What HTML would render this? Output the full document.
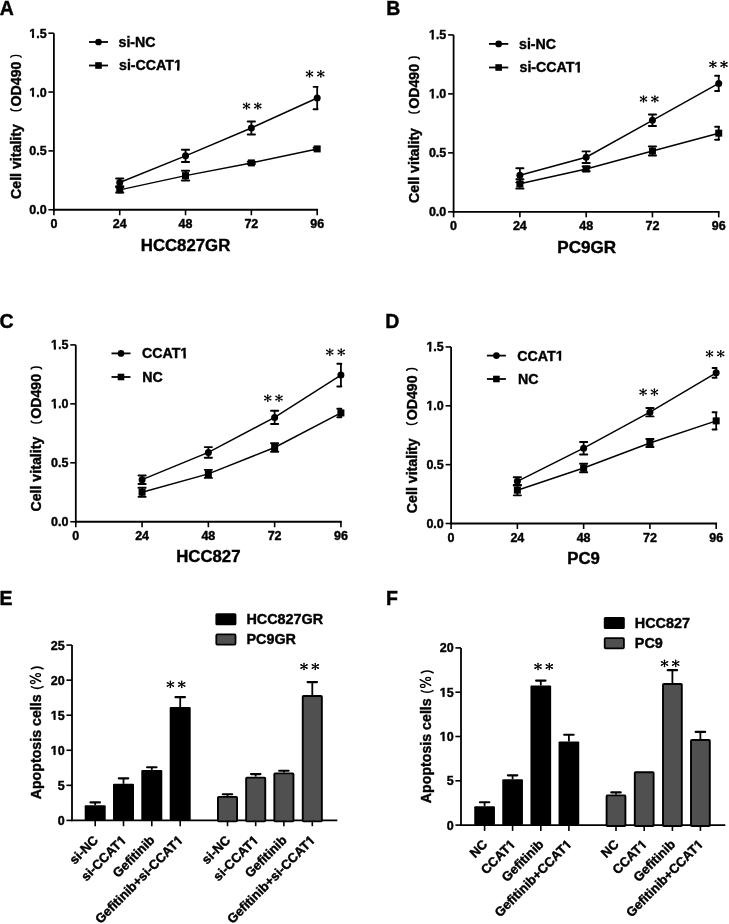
<!DOCTYPE html>
<html><head><meta charset="utf-8"><title>Figure</title>
<style>
html,body{margin:0;padding:0;background:#fff;}
body{width:729px;height:924px;overflow:hidden;}
svg{display:block;font-family:"Liberation Sans", sans-serif;filter:blur(0.4px);}
</style></head><body>
<svg width="729" height="924" viewBox="0 0 729 924" fill="#000" stroke="#000">
<g stroke="none"><rect stroke="none" width="729" height="924" fill="#fff"/></g>
<line x1="53.9" y1="33.2" x2="53.9" y2="210.65" stroke-width="1.8" stroke-linecap="butt"/>
<line x1="53" y1="209.75" x2="318.08" y2="209.75" stroke-width="1.8" stroke-linecap="butt"/>
<line x1="48.4" y1="209.75" x2="53.9" y2="209.75" stroke-width="1.6" stroke-linecap="butt"/>
<text stroke="#000" stroke-width="0.4" x="46.6" y="214.25" font-size="12.5" text-anchor="end" font-weight="bold">0.0</text>
<line x1="48.4" y1="150.9" x2="53.9" y2="150.9" stroke-width="1.6" stroke-linecap="butt"/>
<text stroke="#000" stroke-width="0.4" x="46.6" y="155.4" font-size="12.5" text-anchor="end" font-weight="bold">0.5</text>
<line x1="48.4" y1="92.05" x2="53.9" y2="92.05" stroke-width="1.6" stroke-linecap="butt"/>
<text stroke="#000" stroke-width="0.4" x="46.6" y="96.55" font-size="12.5" text-anchor="end" font-weight="bold">1.0</text>
<line x1="48.4" y1="33.2" x2="53.9" y2="33.2" stroke-width="1.6" stroke-linecap="butt"/>
<text stroke="#000" stroke-width="0.4" x="46.6" y="37.7" font-size="12.5" text-anchor="end" font-weight="bold">1.5</text>
<line x1="53.9" y1="209.75" x2="53.9" y2="215.25" stroke-width="1.6" stroke-linecap="butt"/>
<text stroke="#000" stroke-width="0.4" x="53.9" y="228.15" font-size="12.5" text-anchor="middle" font-weight="bold">0</text>
<line x1="119.72" y1="209.75" x2="119.72" y2="215.25" stroke-width="1.6" stroke-linecap="butt"/>
<text stroke="#000" stroke-width="0.4" x="119.72" y="228.15" font-size="12.5" text-anchor="middle" font-weight="bold">24</text>
<line x1="185.54" y1="209.75" x2="185.54" y2="215.25" stroke-width="1.6" stroke-linecap="butt"/>
<text stroke="#000" stroke-width="0.4" x="185.54" y="228.15" font-size="12.5" text-anchor="middle" font-weight="bold">48</text>
<line x1="251.36" y1="209.75" x2="251.36" y2="215.25" stroke-width="1.6" stroke-linecap="butt"/>
<text stroke="#000" stroke-width="0.4" x="251.36" y="228.15" font-size="12.5" text-anchor="middle" font-weight="bold">72</text>
<line x1="317.18" y1="209.75" x2="317.18" y2="215.25" stroke-width="1.6" stroke-linecap="butt"/>
<text stroke="#000" stroke-width="0.4" x="317.18" y="228.15" font-size="12.5" text-anchor="middle" font-weight="bold">96</text>
<text stroke="#000" stroke-width="0.4" x="185.54" y="250.65" font-size="16.8" text-anchor="middle" font-weight="bold">HCC827GR</text>
<text stroke="#000" stroke-width="0.4" x="-0.3" y="14.6" font-size="19.5" text-anchor="start" font-weight="bold">A</text>
<text stroke="#000" stroke-width="0.4" transform="translate(20.85 199) rotate(-90)" font-size="14.2" font-weight="bold">Cell vitality</text>
<text stroke="#000" stroke-width="0.4" transform="translate(20.85 106.5) rotate(-90)" font-size="14.2" font-weight="bold">OD490</text>
<path d="M10.65 108.15A5.3 2.5 0 0 0 21.25 108.15" fill="none" stroke-width="1.45"/>
<path d="M10.65 57.85A5.3 2.5 0 0 1 21.25 57.85" fill="none" stroke-width="1.45"/>
<polyline points="119.72,182.44 185.54,155.84 251.36,127.95 317.18,98.05" fill="none" stroke-width="1.5"/>
<line x1="119.72" y1="178.56" x2="119.72" y2="186.33" stroke-width="1.8" stroke-linecap="butt"/>
<line x1="116.12" y1="178.56" x2="123.32" y2="178.56" stroke-width="1.95" stroke-linecap="round"/>
<line x1="116.12" y1="186.33" x2="123.32" y2="186.33" stroke-width="1.95" stroke-linecap="round"/>
<circle stroke="none" cx="119.72" cy="182.44" r="3.5"/>
<line x1="185.54" y1="149.72" x2="185.54" y2="161.96" stroke-width="1.8" stroke-linecap="butt"/>
<line x1="181.94" y1="149.72" x2="189.14" y2="149.72" stroke-width="1.95" stroke-linecap="round"/>
<line x1="181.94" y1="161.96" x2="189.14" y2="161.96" stroke-width="1.95" stroke-linecap="round"/>
<circle stroke="none" cx="185.54" cy="155.84" r="3.5"/>
<line x1="251.36" y1="121.48" x2="251.36" y2="134.42" stroke-width="1.8" stroke-linecap="butt"/>
<line x1="247.76" y1="121.48" x2="254.96" y2="121.48" stroke-width="1.95" stroke-linecap="round"/>
<line x1="247.76" y1="134.42" x2="254.96" y2="134.42" stroke-width="1.95" stroke-linecap="round"/>
<circle stroke="none" cx="251.36" cy="127.95" r="3.5"/>
<line x1="317.18" y1="86.87" x2="317.18" y2="109.23" stroke-width="1.8" stroke-linecap="butt"/>
<line x1="313.58" y1="86.87" x2="317.58" y2="86.87" stroke-width="1.95" stroke-linecap="round"/>
<line x1="313.58" y1="109.23" x2="317.58" y2="109.23" stroke-width="1.95" stroke-linecap="round"/>
<circle stroke="none" cx="317.18" cy="98.05" r="3.5"/>
<polyline points="119.72,189.86 185.54,175.62 251.36,162.91 317.18,148.9" fill="none" stroke-width="1.5"/>
<line x1="119.72" y1="187.27" x2="119.72" y2="192.45" stroke-width="1.8" stroke-linecap="butt"/>
<line x1="116.12" y1="187.27" x2="123.32" y2="187.27" stroke-width="1.95" stroke-linecap="round"/>
<line x1="116.12" y1="192.45" x2="123.32" y2="192.45" stroke-width="1.95" stroke-linecap="round"/>
<rect stroke="none" x="116.22" y="186.36" width="7" height="7"/>
<line x1="185.54" y1="170.67" x2="185.54" y2="180.56" stroke-width="1.8" stroke-linecap="butt"/>
<line x1="181.94" y1="170.67" x2="189.14" y2="170.67" stroke-width="1.95" stroke-linecap="round"/>
<line x1="181.94" y1="180.56" x2="189.14" y2="180.56" stroke-width="1.95" stroke-linecap="round"/>
<rect stroke="none" x="182.04" y="172.12" width="7" height="7"/>
<line x1="251.36" y1="161.73" x2="251.36" y2="164.08" stroke-width="1.8" stroke-linecap="butt"/>
<line x1="247.76" y1="161.73" x2="254.96" y2="161.73" stroke-width="1.95" stroke-linecap="round"/>
<line x1="247.76" y1="164.08" x2="254.96" y2="164.08" stroke-width="1.95" stroke-linecap="round"/>
<rect stroke="none" x="247.86" y="159.41" width="7" height="7"/>
<line x1="317.18" y1="147.72" x2="317.18" y2="150.08" stroke-width="1.8" stroke-linecap="butt"/>
<line x1="313.58" y1="147.72" x2="317.58" y2="147.72" stroke-width="1.95" stroke-linecap="round"/>
<line x1="313.58" y1="150.08" x2="317.58" y2="150.08" stroke-width="1.95" stroke-linecap="round"/>
<rect stroke="none" x="313.68" y="145.4" width="7" height="7"/>
<line x1="89" y1="42" x2="108" y2="42" stroke-width="1.8" stroke-linecap="butt"/>
<circle stroke="none" cx="98.5" cy="42" r="3.35"/>
<text stroke="#000" stroke-width="0.4" x="118.5" y="46.9" font-size="14.2" text-anchor="start" font-weight="bold">si-NC</text>
<line x1="89" y1="65.5" x2="108" y2="65.5" stroke-width="1.8" stroke-linecap="butt"/>
<rect stroke="none" x="95.2" y="62.2" width="6.6" height="6.6"/>
<text stroke="#000" stroke-width="0.4" x="119" y="70.4" font-size="14.2" text-anchor="start" font-weight="bold">si-CCAT1</text>
<path d="M246.82 106L247.25 102.95L245.75 102.95L246.18 106ZM246.66 106.28L249.9 104.9L249.15 103.61L246.34 105.72ZM246.66 105.72L243.85 103.61L243.1 104.9L246.34 106.28ZM246.18 106L245.75 109.05L247.25 109.05L246.82 106ZM246.34 105.72L243.1 107.1L243.85 108.39L246.66 106.28ZM246.34 106.28L249.15 108.39L249.9 107.1L246.66 105.72Z" stroke="none"/><circle stroke="none" cx="246.5" cy="102.95" r="0.75"/><circle stroke="none" cx="249.52" cy="104.25" r="0.75"/><circle stroke="none" cx="243.48" cy="104.25" r="0.75"/><circle stroke="none" cx="246.5" cy="109.05" r="0.75"/><circle stroke="none" cx="243.48" cy="107.75" r="0.75"/><circle stroke="none" cx="249.52" cy="107.75" r="0.75"/><circle stroke="none" cx="246.5" cy="106" r="0.95"/>
<path d="M258.12 106L258.55 102.95L257.05 102.95L257.48 106ZM257.96 106.28L261.2 104.9L260.45 103.61L257.64 105.72ZM257.96 105.72L255.15 103.61L254.4 104.9L257.64 106.28ZM257.48 106L257.05 109.05L258.55 109.05L258.12 106ZM257.64 105.72L254.4 107.1L255.15 108.39L257.96 106.28ZM257.64 106.28L260.45 108.39L261.2 107.1L257.96 105.72Z" stroke="none"/><circle stroke="none" cx="257.8" cy="102.95" r="0.75"/><circle stroke="none" cx="260.82" cy="104.25" r="0.75"/><circle stroke="none" cx="254.78" cy="104.25" r="0.75"/><circle stroke="none" cx="257.8" cy="109.05" r="0.75"/><circle stroke="none" cx="254.78" cy="107.75" r="0.75"/><circle stroke="none" cx="260.82" cy="107.75" r="0.75"/><circle stroke="none" cx="257.8" cy="106" r="0.95"/>
<path d="M309.82 73.9L310.25 70.85L308.75 70.85L309.18 73.9ZM309.66 74.18L312.9 72.8L312.15 71.51L309.34 73.62ZM309.66 73.62L306.85 71.51L306.1 72.8L309.34 74.18ZM309.18 73.9L308.75 76.95L310.25 76.95L309.82 73.9ZM309.34 73.62L306.1 75L306.85 76.29L309.66 74.18ZM309.34 74.18L312.15 76.29L312.9 75L309.66 73.62Z" stroke="none"/><circle stroke="none" cx="309.5" cy="70.85" r="0.75"/><circle stroke="none" cx="312.52" cy="72.16" r="0.75"/><circle stroke="none" cx="306.48" cy="72.16" r="0.75"/><circle stroke="none" cx="309.5" cy="76.95" r="0.75"/><circle stroke="none" cx="306.48" cy="75.65" r="0.75"/><circle stroke="none" cx="312.52" cy="75.65" r="0.75"/><circle stroke="none" cx="309.5" cy="73.9" r="0.95"/>
<path d="M321.12 73.9L321.55 70.85L320.05 70.85L320.48 73.9ZM320.96 74.18L324.2 72.8L323.45 71.51L320.64 73.62ZM320.96 73.62L318.15 71.51L317.4 72.8L320.64 74.18ZM320.48 73.9L320.05 76.95L321.55 76.95L321.12 73.9ZM320.64 73.62L317.4 75L318.15 76.29L320.96 74.18ZM320.64 74.18L323.45 76.29L324.2 75L320.96 73.62Z" stroke="none"/><circle stroke="none" cx="320.8" cy="70.85" r="0.75"/><circle stroke="none" cx="323.82" cy="72.16" r="0.75"/><circle stroke="none" cx="317.78" cy="72.16" r="0.75"/><circle stroke="none" cx="320.8" cy="76.95" r="0.75"/><circle stroke="none" cx="317.78" cy="75.65" r="0.75"/><circle stroke="none" cx="323.82" cy="75.65" r="0.75"/><circle stroke="none" cx="320.8" cy="73.9" r="0.95"/>
<line x1="453.6" y1="34.9" x2="453.6" y2="212.75" stroke-width="1.8" stroke-linecap="butt"/>
<line x1="452.7" y1="211.85" x2="719.62" y2="211.85" stroke-width="1.8" stroke-linecap="butt"/>
<line x1="448.1" y1="211.85" x2="453.6" y2="211.85" stroke-width="1.6" stroke-linecap="butt"/>
<text stroke="#000" stroke-width="0.4" x="446.3" y="216.35" font-size="12.5" text-anchor="end" font-weight="bold">0.0</text>
<line x1="448.1" y1="152.87" x2="453.6" y2="152.87" stroke-width="1.6" stroke-linecap="butt"/>
<text stroke="#000" stroke-width="0.4" x="446.3" y="157.37" font-size="12.5" text-anchor="end" font-weight="bold">0.5</text>
<line x1="448.1" y1="93.88" x2="453.6" y2="93.88" stroke-width="1.6" stroke-linecap="butt"/>
<text stroke="#000" stroke-width="0.4" x="446.3" y="98.38" font-size="12.5" text-anchor="end" font-weight="bold">1.0</text>
<line x1="448.1" y1="34.9" x2="453.6" y2="34.9" stroke-width="1.6" stroke-linecap="butt"/>
<text stroke="#000" stroke-width="0.4" x="446.3" y="39.4" font-size="12.5" text-anchor="end" font-weight="bold">1.5</text>
<line x1="453.6" y1="211.85" x2="453.6" y2="217.35" stroke-width="1.6" stroke-linecap="butt"/>
<text stroke="#000" stroke-width="0.4" x="453.6" y="230.25" font-size="12.5" text-anchor="middle" font-weight="bold">0</text>
<line x1="519.88" y1="211.85" x2="519.88" y2="217.35" stroke-width="1.6" stroke-linecap="butt"/>
<text stroke="#000" stroke-width="0.4" x="519.88" y="230.25" font-size="12.5" text-anchor="middle" font-weight="bold">24</text>
<line x1="586.16" y1="211.85" x2="586.16" y2="217.35" stroke-width="1.6" stroke-linecap="butt"/>
<text stroke="#000" stroke-width="0.4" x="586.16" y="230.25" font-size="12.5" text-anchor="middle" font-weight="bold">48</text>
<line x1="652.44" y1="211.85" x2="652.44" y2="217.35" stroke-width="1.6" stroke-linecap="butt"/>
<text stroke="#000" stroke-width="0.4" x="652.44" y="230.25" font-size="12.5" text-anchor="middle" font-weight="bold">72</text>
<line x1="718.72" y1="211.85" x2="718.72" y2="217.35" stroke-width="1.6" stroke-linecap="butt"/>
<text stroke="#000" stroke-width="0.4" x="718.72" y="230.25" font-size="12.5" text-anchor="middle" font-weight="bold">96</text>
<text stroke="#000" stroke-width="0.4" x="586.76" y="252.75" font-size="17.1" text-anchor="middle" font-weight="bold">PC9GR</text>
<text stroke="#000" stroke-width="0.4" x="386.3" y="14.8" font-size="19.5" text-anchor="start" font-weight="bold">B</text>
<text stroke="#000" stroke-width="0.4" transform="translate(419.05 202.9) rotate(-90)" font-size="14.2" font-weight="bold">Cell vitality</text>
<text stroke="#000" stroke-width="0.4" transform="translate(419.05 108.8) rotate(-90)" font-size="14.2" font-weight="bold">OD490</text>
<path d="M408.85 110.45A5.3 2.5 0 0 0 419.45 110.45" fill="none" stroke-width="1.45"/>
<path d="M408.85 59.45A5.3 2.5 0 0 1 419.45 59.45" fill="none" stroke-width="1.45"/>
<polyline points="519.88,175.28 586.16,157.23 652.44,120.31 718.72,83.38" fill="none" stroke-width="1.5"/>
<line x1="519.88" y1="168.2" x2="519.88" y2="182.36" stroke-width="1.8" stroke-linecap="butt"/>
<line x1="516.28" y1="168.2" x2="523.48" y2="168.2" stroke-width="1.95" stroke-linecap="round"/>
<line x1="516.28" y1="182.36" x2="523.48" y2="182.36" stroke-width="1.95" stroke-linecap="round"/>
<circle stroke="none" cx="519.88" cy="175.28" r="3.5"/>
<line x1="586.16" y1="151.38" x2="586.16" y2="163.08" stroke-width="1.8" stroke-linecap="butt"/>
<line x1="582.56" y1="151.38" x2="589.76" y2="151.38" stroke-width="1.95" stroke-linecap="round"/>
<line x1="582.56" y1="163.08" x2="589.76" y2="163.08" stroke-width="1.95" stroke-linecap="round"/>
<circle stroke="none" cx="586.16" cy="157.23" r="3.5"/>
<line x1="652.44" y1="114.52" x2="652.44" y2="126.09" stroke-width="1.8" stroke-linecap="butt"/>
<line x1="648.84" y1="114.52" x2="656.04" y2="114.52" stroke-width="1.95" stroke-linecap="round"/>
<line x1="648.84" y1="126.09" x2="656.04" y2="126.09" stroke-width="1.95" stroke-linecap="round"/>
<circle stroke="none" cx="652.44" cy="120.31" r="3.5"/>
<line x1="718.72" y1="75.83" x2="718.72" y2="90.93" stroke-width="1.8" stroke-linecap="butt"/>
<line x1="715.12" y1="75.83" x2="719.12" y2="75.83" stroke-width="1.95" stroke-linecap="round"/>
<line x1="715.12" y1="90.93" x2="719.12" y2="90.93" stroke-width="1.95" stroke-linecap="round"/>
<circle stroke="none" cx="718.72" cy="83.38" r="3.5"/>
<polyline points="519.88,183.83 586.16,168.91 652.44,150.98 718.72,133.16" fill="none" stroke-width="1.5"/>
<line x1="519.88" y1="179.11" x2="519.88" y2="188.55" stroke-width="1.8" stroke-linecap="butt"/>
<line x1="516.28" y1="179.11" x2="523.48" y2="179.11" stroke-width="1.95" stroke-linecap="round"/>
<line x1="516.28" y1="188.55" x2="523.48" y2="188.55" stroke-width="1.95" stroke-linecap="round"/>
<rect stroke="none" x="516.38" y="180.33" width="7" height="7"/>
<line x1="586.16" y1="166.55" x2="586.16" y2="171.27" stroke-width="1.8" stroke-linecap="butt"/>
<line x1="582.56" y1="166.55" x2="589.76" y2="166.55" stroke-width="1.95" stroke-linecap="round"/>
<line x1="582.56" y1="171.27" x2="589.76" y2="171.27" stroke-width="1.95" stroke-linecap="round"/>
<rect stroke="none" x="582.66" y="165.41" width="7" height="7"/>
<line x1="652.44" y1="146.38" x2="652.44" y2="155.58" stroke-width="1.8" stroke-linecap="butt"/>
<line x1="648.84" y1="146.38" x2="656.04" y2="146.38" stroke-width="1.95" stroke-linecap="round"/>
<line x1="648.84" y1="155.58" x2="656.04" y2="155.58" stroke-width="1.95" stroke-linecap="round"/>
<rect stroke="none" x="648.94" y="147.48" width="7" height="7"/>
<line x1="718.72" y1="126.68" x2="718.72" y2="139.65" stroke-width="1.8" stroke-linecap="butt"/>
<line x1="715.12" y1="126.68" x2="719.12" y2="126.68" stroke-width="1.95" stroke-linecap="round"/>
<line x1="715.12" y1="139.65" x2="719.12" y2="139.65" stroke-width="1.95" stroke-linecap="round"/>
<rect stroke="none" x="715.22" y="129.66" width="7" height="7"/>
<line x1="489" y1="43.9" x2="508.3" y2="43.9" stroke-width="1.8" stroke-linecap="butt"/>
<circle stroke="none" cx="498.65" cy="43.9" r="3.35"/>
<text stroke="#000" stroke-width="0.4" x="519" y="48.8" font-size="14.2" text-anchor="start" font-weight="bold">si-NC</text>
<line x1="489" y1="67.5" x2="508.3" y2="67.5" stroke-width="1.8" stroke-linecap="butt"/>
<rect stroke="none" x="495.35" y="64.2" width="6.6" height="6.6"/>
<text stroke="#000" stroke-width="0.4" x="519.5" y="72.4" font-size="14.2" text-anchor="start" font-weight="bold">si-CCAT1</text>
<path d="M643.82 99L644.25 95.95L642.75 95.95L643.18 99ZM643.66 99.28L646.9 97.9L646.15 96.61L643.34 98.72ZM643.66 98.72L640.85 96.61L640.1 97.9L643.34 99.28ZM643.18 99L642.75 102.05L644.25 102.05L643.82 99ZM643.34 98.72L640.1 100.1L640.85 101.39L643.66 99.28ZM643.34 99.28L646.15 101.39L646.9 100.1L643.66 98.72Z" stroke="none"/><circle stroke="none" cx="643.5" cy="95.95" r="0.75"/><circle stroke="none" cx="646.52" cy="97.25" r="0.75"/><circle stroke="none" cx="640.48" cy="97.25" r="0.75"/><circle stroke="none" cx="643.5" cy="102.05" r="0.75"/><circle stroke="none" cx="640.48" cy="100.75" r="0.75"/><circle stroke="none" cx="646.52" cy="100.75" r="0.75"/><circle stroke="none" cx="643.5" cy="99" r="0.95"/>
<path d="M655.22 99L655.65 95.95L654.15 95.95L654.58 99ZM655.06 99.28L658.3 97.9L657.55 96.61L654.74 98.72ZM655.06 98.72L652.25 96.61L651.5 97.9L654.74 99.28ZM654.58 99L654.15 102.05L655.65 102.05L655.22 99ZM654.74 98.72L651.5 100.1L652.25 101.39L655.06 99.28ZM654.74 99.28L657.55 101.39L658.3 100.1L655.06 98.72Z" stroke="none"/><circle stroke="none" cx="654.9" cy="95.95" r="0.75"/><circle stroke="none" cx="657.92" cy="97.25" r="0.75"/><circle stroke="none" cx="651.88" cy="97.25" r="0.75"/><circle stroke="none" cx="654.9" cy="102.05" r="0.75"/><circle stroke="none" cx="651.88" cy="100.75" r="0.75"/><circle stroke="none" cx="657.92" cy="100.75" r="0.75"/><circle stroke="none" cx="654.9" cy="99" r="0.95"/>
<path d="M713.22 64.4L713.65 61.35L712.15 61.35L712.58 64.4ZM713.06 64.68L716.3 63.3L715.55 62.01L712.74 64.12ZM713.06 64.12L710.25 62.01L709.5 63.3L712.74 64.68ZM712.58 64.4L712.15 67.45L713.65 67.45L713.22 64.4ZM712.74 64.12L709.5 65.5L710.25 66.79L713.06 64.68ZM712.74 64.68L715.55 66.79L716.3 65.5L713.06 64.12Z" stroke="none"/><circle stroke="none" cx="712.9" cy="61.35" r="0.75"/><circle stroke="none" cx="715.92" cy="62.66" r="0.75"/><circle stroke="none" cx="709.88" cy="62.66" r="0.75"/><circle stroke="none" cx="712.9" cy="67.45" r="0.75"/><circle stroke="none" cx="709.88" cy="66.15" r="0.75"/><circle stroke="none" cx="715.92" cy="66.15" r="0.75"/><circle stroke="none" cx="712.9" cy="64.4" r="0.95"/>
<path d="M724.32 64.4L724.75 61.35L723.25 61.35L723.68 64.4ZM724.16 64.68L727.4 63.3L726.65 62.01L723.84 64.12ZM724.16 64.12L721.35 62.01L720.6 63.3L723.84 64.68ZM723.68 64.4L723.25 67.45L724.75 67.45L724.32 64.4ZM723.84 64.12L720.6 65.5L721.35 66.79L724.16 64.68ZM723.84 64.68L726.65 66.79L727.4 65.5L724.16 64.12Z" stroke="none"/><circle stroke="none" cx="724" cy="61.35" r="0.75"/><circle stroke="none" cx="727.02" cy="62.66" r="0.75"/><circle stroke="none" cx="720.98" cy="62.66" r="0.75"/><circle stroke="none" cx="724" cy="67.45" r="0.75"/><circle stroke="none" cx="720.98" cy="66.15" r="0.75"/><circle stroke="none" cx="727.02" cy="66.15" r="0.75"/><circle stroke="none" cx="724" cy="64.4" r="0.95"/>
<line x1="75.8" y1="344.9" x2="75.8" y2="522.65" stroke-width="1.8" stroke-linecap="butt"/>
<line x1="74.9" y1="521.75" x2="341.82" y2="521.75" stroke-width="1.8" stroke-linecap="butt"/>
<line x1="70.3" y1="521.75" x2="75.8" y2="521.75" stroke-width="1.6" stroke-linecap="butt"/>
<text stroke="#000" stroke-width="0.4" x="68.5" y="526.25" font-size="12.5" text-anchor="end" font-weight="bold">0.0</text>
<line x1="70.3" y1="462.8" x2="75.8" y2="462.8" stroke-width="1.6" stroke-linecap="butt"/>
<text stroke="#000" stroke-width="0.4" x="68.5" y="467.3" font-size="12.5" text-anchor="end" font-weight="bold">0.5</text>
<line x1="70.3" y1="403.85" x2="75.8" y2="403.85" stroke-width="1.6" stroke-linecap="butt"/>
<text stroke="#000" stroke-width="0.4" x="68.5" y="408.35" font-size="12.5" text-anchor="end" font-weight="bold">1.0</text>
<line x1="70.3" y1="344.9" x2="75.8" y2="344.9" stroke-width="1.6" stroke-linecap="butt"/>
<text stroke="#000" stroke-width="0.4" x="68.5" y="349.4" font-size="12.5" text-anchor="end" font-weight="bold">1.5</text>
<line x1="75.8" y1="521.75" x2="75.8" y2="527.25" stroke-width="1.6" stroke-linecap="butt"/>
<text stroke="#000" stroke-width="0.4" x="75.8" y="540.15" font-size="12.5" text-anchor="middle" font-weight="bold">0</text>
<line x1="142.08" y1="521.75" x2="142.08" y2="527.25" stroke-width="1.6" stroke-linecap="butt"/>
<text stroke="#000" stroke-width="0.4" x="142.08" y="540.15" font-size="12.5" text-anchor="middle" font-weight="bold">24</text>
<line x1="208.36" y1="521.75" x2="208.36" y2="527.25" stroke-width="1.6" stroke-linecap="butt"/>
<text stroke="#000" stroke-width="0.4" x="208.36" y="540.15" font-size="12.5" text-anchor="middle" font-weight="bold">48</text>
<line x1="274.64" y1="521.75" x2="274.64" y2="527.25" stroke-width="1.6" stroke-linecap="butt"/>
<text stroke="#000" stroke-width="0.4" x="274.64" y="540.15" font-size="12.5" text-anchor="middle" font-weight="bold">72</text>
<line x1="340.92" y1="521.75" x2="340.92" y2="527.25" stroke-width="1.6" stroke-linecap="butt"/>
<text stroke="#000" stroke-width="0.4" x="340.92" y="540.15" font-size="12.5" text-anchor="middle" font-weight="bold">96</text>
<text stroke="#000" stroke-width="0.4" x="208.36" y="561.65" font-size="16.8" text-anchor="middle" font-weight="bold">HCC827</text>
<text stroke="#000" stroke-width="0.4" x="-0.6" y="328.3" font-size="19.5" text-anchor="start" font-weight="bold">C</text>
<text stroke="#000" stroke-width="0.4" transform="translate(41.3 511.6) rotate(-90)" font-size="14.2" font-weight="bold">Cell vitality</text>
<text stroke="#000" stroke-width="0.4" transform="translate(41.3 418.8) rotate(-90)" font-size="14.2" font-weight="bold">OD490</text>
<path d="M31.1 420.45A5.3 2.5 0 0 0 41.7 420.45" fill="none" stroke-width="1.45"/>
<path d="M31.1 369.45A5.3 2.5 0 0 1 41.7 369.45" fill="none" stroke-width="1.45"/>
<polyline points="142.08,479.66 208.36,452.42 274.64,417.41 340.92,375.08" fill="none" stroke-width="1.5"/>
<line x1="142.08" y1="475.42" x2="142.08" y2="483.9" stroke-width="1.8" stroke-linecap="butt"/>
<line x1="138.48" y1="475.42" x2="145.68" y2="475.42" stroke-width="1.95" stroke-linecap="round"/>
<line x1="138.48" y1="483.9" x2="145.68" y2="483.9" stroke-width="1.95" stroke-linecap="round"/>
<circle stroke="none" cx="142.08" cy="479.66" r="3.5"/>
<line x1="208.36" y1="447.12" x2="208.36" y2="457.73" stroke-width="1.8" stroke-linecap="butt"/>
<line x1="204.76" y1="447.12" x2="211.96" y2="447.12" stroke-width="1.95" stroke-linecap="round"/>
<line x1="204.76" y1="457.73" x2="211.96" y2="457.73" stroke-width="1.95" stroke-linecap="round"/>
<circle stroke="none" cx="208.36" cy="452.42" r="3.5"/>
<line x1="274.64" y1="410.81" x2="274.64" y2="424.01" stroke-width="1.8" stroke-linecap="butt"/>
<line x1="271.04" y1="410.81" x2="278.24" y2="410.81" stroke-width="1.95" stroke-linecap="round"/>
<line x1="271.04" y1="424.01" x2="278.24" y2="424.01" stroke-width="1.95" stroke-linecap="round"/>
<circle stroke="none" cx="274.64" cy="417.41" r="3.5"/>
<line x1="340.92" y1="363.76" x2="340.92" y2="386.4" stroke-width="1.8" stroke-linecap="butt"/>
<line x1="337.32" y1="363.76" x2="341.32" y2="363.76" stroke-width="1.95" stroke-linecap="round"/>
<line x1="337.32" y1="386.4" x2="341.32" y2="386.4" stroke-width="1.95" stroke-linecap="round"/>
<circle stroke="none" cx="340.92" cy="375.08" r="3.5"/>
<polyline points="142.08,492.27 208.36,473.88 274.64,447.47 340.92,412.93" fill="none" stroke-width="1.5"/>
<line x1="142.08" y1="487.68" x2="142.08" y2="496.87" stroke-width="1.8" stroke-linecap="butt"/>
<line x1="138.48" y1="487.68" x2="145.68" y2="487.68" stroke-width="1.95" stroke-linecap="round"/>
<line x1="138.48" y1="496.87" x2="145.68" y2="496.87" stroke-width="1.95" stroke-linecap="round"/>
<rect stroke="none" x="138.58" y="488.77" width="7" height="7"/>
<line x1="208.36" y1="469.87" x2="208.36" y2="477.89" stroke-width="1.8" stroke-linecap="butt"/>
<line x1="204.76" y1="469.87" x2="211.96" y2="469.87" stroke-width="1.95" stroke-linecap="round"/>
<line x1="204.76" y1="477.89" x2="211.96" y2="477.89" stroke-width="1.95" stroke-linecap="round"/>
<rect stroke="none" x="204.86" y="470.38" width="7" height="7"/>
<line x1="274.64" y1="443.23" x2="274.64" y2="451.72" stroke-width="1.8" stroke-linecap="butt"/>
<line x1="271.04" y1="443.23" x2="278.24" y2="443.23" stroke-width="1.95" stroke-linecap="round"/>
<line x1="271.04" y1="451.72" x2="278.24" y2="451.72" stroke-width="1.95" stroke-linecap="round"/>
<rect stroke="none" x="271.14" y="443.97" width="7" height="7"/>
<line x1="340.92" y1="408.68" x2="340.92" y2="417.17" stroke-width="1.8" stroke-linecap="butt"/>
<line x1="337.32" y1="408.68" x2="341.32" y2="408.68" stroke-width="1.95" stroke-linecap="round"/>
<line x1="337.32" y1="417.17" x2="341.32" y2="417.17" stroke-width="1.95" stroke-linecap="round"/>
<rect stroke="none" x="337.42" y="409.43" width="7" height="7"/>
<line x1="111.5" y1="353.4" x2="130.5" y2="353.4" stroke-width="1.8" stroke-linecap="butt"/>
<circle stroke="none" cx="121" cy="353.4" r="3.35"/>
<text stroke="#000" stroke-width="0.4" x="142" y="358.3" font-size="14.2" text-anchor="start" font-weight="bold">CCAT1</text>
<line x1="111.5" y1="377" x2="130.5" y2="377" stroke-width="1.8" stroke-linecap="butt"/>
<rect stroke="none" x="117.7" y="373.7" width="6.6" height="6.6"/>
<text stroke="#000" stroke-width="0.4" x="142.3" y="381.9" font-size="14.2" text-anchor="start" font-weight="bold">NC</text>
<path d="M268.07 398.1L268.5 395.05L267 395.05L267.43 398.1ZM267.91 398.38L271.15 397L270.4 395.71L267.59 397.82ZM267.91 397.82L265.1 395.71L264.35 397L267.59 398.38ZM267.43 398.1L267 401.15L268.5 401.15L268.07 398.1ZM267.59 397.82L264.35 399.2L265.1 400.49L267.91 398.38ZM267.59 398.38L270.4 400.49L271.15 399.2L267.91 397.82Z" stroke="none"/><circle stroke="none" cx="267.75" cy="395.05" r="0.75"/><circle stroke="none" cx="270.77" cy="396.36" r="0.75"/><circle stroke="none" cx="264.73" cy="396.36" r="0.75"/><circle stroke="none" cx="267.75" cy="401.15" r="0.75"/><circle stroke="none" cx="264.73" cy="399.85" r="0.75"/><circle stroke="none" cx="270.77" cy="399.85" r="0.75"/><circle stroke="none" cx="267.75" cy="398.1" r="0.95"/>
<path d="M279.32 398.1L279.75 395.05L278.25 395.05L278.68 398.1ZM279.16 398.38L282.4 397L281.65 395.71L278.84 397.82ZM279.16 397.82L276.35 395.71L275.6 397L278.84 398.38ZM278.68 398.1L278.25 401.15L279.75 401.15L279.32 398.1ZM278.84 397.82L275.6 399.2L276.35 400.49L279.16 398.38ZM278.84 398.38L281.65 400.49L282.4 399.2L279.16 397.82Z" stroke="none"/><circle stroke="none" cx="279" cy="395.05" r="0.75"/><circle stroke="none" cx="282.02" cy="396.36" r="0.75"/><circle stroke="none" cx="275.98" cy="396.36" r="0.75"/><circle stroke="none" cx="279" cy="401.15" r="0.75"/><circle stroke="none" cx="275.98" cy="399.85" r="0.75"/><circle stroke="none" cx="282.02" cy="399.85" r="0.75"/><circle stroke="none" cx="279" cy="398.1" r="0.95"/>
<path d="M330.12 352.1L330.55 349.05L329.05 349.05L329.48 352.1ZM329.96 352.38L333.2 351L332.45 349.71L329.64 351.82ZM329.96 351.82L327.15 349.71L326.4 351L329.64 352.38ZM329.48 352.1L329.05 355.15L330.55 355.15L330.12 352.1ZM329.64 351.82L326.4 353.2L327.15 354.49L329.96 352.38ZM329.64 352.38L332.45 354.49L333.2 353.2L329.96 351.82Z" stroke="none"/><circle stroke="none" cx="329.8" cy="349.05" r="0.75"/><circle stroke="none" cx="332.82" cy="350.36" r="0.75"/><circle stroke="none" cx="326.78" cy="350.36" r="0.75"/><circle stroke="none" cx="329.8" cy="355.15" r="0.75"/><circle stroke="none" cx="326.78" cy="353.85" r="0.75"/><circle stroke="none" cx="332.82" cy="353.85" r="0.75"/><circle stroke="none" cx="329.8" cy="352.1" r="0.95"/>
<path d="M341.52 352.1L341.95 349.05L340.45 349.05L340.88 352.1ZM341.36 352.38L344.6 351L343.85 349.71L341.04 351.82ZM341.36 351.82L338.55 349.71L337.8 351L341.04 352.38ZM340.88 352.1L340.45 355.15L341.95 355.15L341.52 352.1ZM341.04 351.82L337.8 353.2L338.55 354.49L341.36 352.38ZM341.04 352.38L343.85 354.49L344.6 353.2L341.36 351.82Z" stroke="none"/><circle stroke="none" cx="341.2" cy="349.05" r="0.75"/><circle stroke="none" cx="344.22" cy="350.36" r="0.75"/><circle stroke="none" cx="338.18" cy="350.36" r="0.75"/><circle stroke="none" cx="341.2" cy="355.15" r="0.75"/><circle stroke="none" cx="338.18" cy="353.85" r="0.75"/><circle stroke="none" cx="344.22" cy="353.85" r="0.75"/><circle stroke="none" cx="341.2" cy="352.1" r="0.95"/>
<line x1="451.1" y1="346.95" x2="451.1" y2="524.4" stroke-width="1.8" stroke-linecap="butt"/>
<line x1="450.2" y1="523.5" x2="717.08" y2="523.5" stroke-width="1.8" stroke-linecap="butt"/>
<line x1="445.6" y1="523.5" x2="451.1" y2="523.5" stroke-width="1.6" stroke-linecap="butt"/>
<text stroke="#000" stroke-width="0.4" x="443.8" y="528" font-size="12.5" text-anchor="end" font-weight="bold">0.0</text>
<line x1="445.6" y1="464.65" x2="451.1" y2="464.65" stroke-width="1.6" stroke-linecap="butt"/>
<text stroke="#000" stroke-width="0.4" x="443.8" y="469.15" font-size="12.5" text-anchor="end" font-weight="bold">0.5</text>
<line x1="445.6" y1="405.8" x2="451.1" y2="405.8" stroke-width="1.6" stroke-linecap="butt"/>
<text stroke="#000" stroke-width="0.4" x="443.8" y="410.3" font-size="12.5" text-anchor="end" font-weight="bold">1.0</text>
<line x1="445.6" y1="346.95" x2="451.1" y2="346.95" stroke-width="1.6" stroke-linecap="butt"/>
<text stroke="#000" stroke-width="0.4" x="443.8" y="351.45" font-size="12.5" text-anchor="end" font-weight="bold">1.5</text>
<line x1="451.1" y1="523.5" x2="451.1" y2="529" stroke-width="1.6" stroke-linecap="butt"/>
<text stroke="#000" stroke-width="0.4" x="451.1" y="541.9" font-size="12.5" text-anchor="middle" font-weight="bold">0</text>
<line x1="517.37" y1="523.5" x2="517.37" y2="529" stroke-width="1.6" stroke-linecap="butt"/>
<text stroke="#000" stroke-width="0.4" x="517.37" y="541.9" font-size="12.5" text-anchor="middle" font-weight="bold">24</text>
<line x1="583.64" y1="523.5" x2="583.64" y2="529" stroke-width="1.6" stroke-linecap="butt"/>
<text stroke="#000" stroke-width="0.4" x="583.64" y="541.9" font-size="12.5" text-anchor="middle" font-weight="bold">48</text>
<line x1="649.91" y1="523.5" x2="649.91" y2="529" stroke-width="1.6" stroke-linecap="butt"/>
<text stroke="#000" stroke-width="0.4" x="649.91" y="541.9" font-size="12.5" text-anchor="middle" font-weight="bold">72</text>
<line x1="716.18" y1="523.5" x2="716.18" y2="529" stroke-width="1.6" stroke-linecap="butt"/>
<text stroke="#000" stroke-width="0.4" x="716.18" y="541.9" font-size="12.5" text-anchor="middle" font-weight="bold">96</text>
<text stroke="#000" stroke-width="0.4" x="583.64" y="564.4" font-size="16.8" text-anchor="middle" font-weight="bold">PC9</text>
<text stroke="#000" stroke-width="0.4" x="385.3" y="328.3" font-size="19.5" text-anchor="start" font-weight="bold">D</text>
<text stroke="#000" stroke-width="0.4" transform="translate(416.8 513.2) rotate(-90)" font-size="14.2" font-weight="bold">Cell vitality</text>
<text stroke="#000" stroke-width="0.4" transform="translate(416.8 420.3) rotate(-90)" font-size="14.2" font-weight="bold">OD490</text>
<path d="M406.6 421.95A5.3 2.5 0 0 0 417.2 421.95" fill="none" stroke-width="1.45"/>
<path d="M406.6 370.95A5.3 2.5 0 0 1 417.2 370.95" fill="none" stroke-width="1.45"/>
<polyline points="517.37,481.3 583.64,448.17 649.91,412.16 716.18,372.84" fill="none" stroke-width="1.5"/>
<line x1="517.37" y1="477.19" x2="517.37" y2="485.42" stroke-width="1.8" stroke-linecap="butt"/>
<line x1="513.77" y1="477.19" x2="520.97" y2="477.19" stroke-width="1.95" stroke-linecap="round"/>
<line x1="513.77" y1="485.42" x2="520.97" y2="485.42" stroke-width="1.95" stroke-linecap="round"/>
<circle stroke="none" cx="517.37" cy="481.3" r="3.5"/>
<line x1="583.64" y1="441.93" x2="583.64" y2="454.41" stroke-width="1.8" stroke-linecap="butt"/>
<line x1="580.04" y1="441.93" x2="587.24" y2="441.93" stroke-width="1.95" stroke-linecap="round"/>
<line x1="580.04" y1="454.41" x2="587.24" y2="454.41" stroke-width="1.95" stroke-linecap="round"/>
<circle stroke="none" cx="583.64" cy="448.17" r="3.5"/>
<line x1="649.91" y1="407.92" x2="649.91" y2="416.39" stroke-width="1.8" stroke-linecap="butt"/>
<line x1="646.31" y1="407.92" x2="653.51" y2="407.92" stroke-width="1.95" stroke-linecap="round"/>
<line x1="646.31" y1="416.39" x2="653.51" y2="416.39" stroke-width="1.95" stroke-linecap="round"/>
<circle stroke="none" cx="649.91" cy="412.16" r="3.5"/>
<line x1="716.18" y1="367.9" x2="716.18" y2="377.79" stroke-width="1.8" stroke-linecap="butt"/>
<line x1="712.58" y1="367.9" x2="716.58" y2="367.9" stroke-width="1.95" stroke-linecap="round"/>
<line x1="712.58" y1="377.79" x2="716.58" y2="377.79" stroke-width="1.95" stroke-linecap="round"/>
<circle stroke="none" cx="716.18" cy="372.84" r="3.5"/>
<polyline points="517.37,490.19 583.64,468.06 649.91,442.99 716.18,420.87" fill="none" stroke-width="1.5"/>
<line x1="517.37" y1="485.01" x2="517.37" y2="495.37" stroke-width="1.8" stroke-linecap="butt"/>
<line x1="513.77" y1="485.01" x2="520.97" y2="485.01" stroke-width="1.95" stroke-linecap="round"/>
<line x1="513.77" y1="495.37" x2="520.97" y2="495.37" stroke-width="1.95" stroke-linecap="round"/>
<rect stroke="none" x="513.87" y="486.69" width="7" height="7"/>
<line x1="583.64" y1="463.83" x2="583.64" y2="472.3" stroke-width="1.8" stroke-linecap="butt"/>
<line x1="580.04" y1="463.83" x2="587.24" y2="463.83" stroke-width="1.95" stroke-linecap="round"/>
<line x1="580.04" y1="472.3" x2="587.24" y2="472.3" stroke-width="1.95" stroke-linecap="round"/>
<rect stroke="none" x="580.14" y="464.56" width="7" height="7"/>
<line x1="649.91" y1="438.99" x2="649.91" y2="447" stroke-width="1.8" stroke-linecap="butt"/>
<line x1="646.31" y1="438.99" x2="653.51" y2="438.99" stroke-width="1.95" stroke-linecap="round"/>
<line x1="646.31" y1="447" x2="653.51" y2="447" stroke-width="1.95" stroke-linecap="round"/>
<rect stroke="none" x="646.41" y="439.49" width="7" height="7"/>
<line x1="716.18" y1="412.27" x2="716.18" y2="429.46" stroke-width="1.8" stroke-linecap="butt"/>
<line x1="712.58" y1="412.27" x2="716.58" y2="412.27" stroke-width="1.95" stroke-linecap="round"/>
<line x1="712.58" y1="429.46" x2="716.58" y2="429.46" stroke-width="1.95" stroke-linecap="round"/>
<rect stroke="none" x="712.68" y="417.37" width="7" height="7"/>
<line x1="486.9" y1="355.6" x2="505.9" y2="355.6" stroke-width="1.8" stroke-linecap="butt"/>
<circle stroke="none" cx="496.4" cy="355.6" r="3.35"/>
<text stroke="#000" stroke-width="0.4" x="517.3" y="360.5" font-size="14.2" text-anchor="start" font-weight="bold">CCAT1</text>
<line x1="486.9" y1="379" x2="505.9" y2="379" stroke-width="1.8" stroke-linecap="butt"/>
<rect stroke="none" x="493.1" y="375.7" width="6.6" height="6.6"/>
<text stroke="#000" stroke-width="0.4" x="518" y="383.9" font-size="14.2" text-anchor="start" font-weight="bold">NC</text>
<path d="M643.42 392.1L643.85 389.05L642.35 389.05L642.78 392.1ZM643.26 392.38L646.5 391L645.75 389.71L642.94 391.82ZM643.26 391.82L640.45 389.71L639.7 391L642.94 392.38ZM642.78 392.1L642.35 395.15L643.85 395.15L643.42 392.1ZM642.94 391.82L639.7 393.2L640.45 394.49L643.26 392.38ZM642.94 392.38L645.75 394.49L646.5 393.2L643.26 391.82Z" stroke="none"/><circle stroke="none" cx="643.1" cy="389.05" r="0.75"/><circle stroke="none" cx="646.12" cy="390.36" r="0.75"/><circle stroke="none" cx="640.08" cy="390.36" r="0.75"/><circle stroke="none" cx="643.1" cy="395.15" r="0.75"/><circle stroke="none" cx="640.08" cy="393.85" r="0.75"/><circle stroke="none" cx="646.12" cy="393.85" r="0.75"/><circle stroke="none" cx="643.1" cy="392.1" r="0.95"/>
<path d="M654.72 392.1L655.15 389.05L653.65 389.05L654.08 392.1ZM654.56 392.38L657.8 391L657.05 389.71L654.24 391.82ZM654.56 391.82L651.75 389.71L651 391L654.24 392.38ZM654.08 392.1L653.65 395.15L655.15 395.15L654.72 392.1ZM654.24 391.82L651 393.2L651.75 394.49L654.56 392.38ZM654.24 392.38L657.05 394.49L657.8 393.2L654.56 391.82Z" stroke="none"/><circle stroke="none" cx="654.4" cy="389.05" r="0.75"/><circle stroke="none" cx="657.42" cy="390.36" r="0.75"/><circle stroke="none" cx="651.38" cy="390.36" r="0.75"/><circle stroke="none" cx="654.4" cy="395.15" r="0.75"/><circle stroke="none" cx="651.38" cy="393.85" r="0.75"/><circle stroke="none" cx="657.42" cy="393.85" r="0.75"/><circle stroke="none" cx="654.4" cy="392.1" r="0.95"/>
<path d="M709.82 353.8L710.25 350.75L708.75 350.75L709.18 353.8ZM709.66 354.08L712.9 352.7L712.15 351.41L709.34 353.52ZM709.66 353.52L706.85 351.41L706.1 352.7L709.34 354.08ZM709.18 353.8L708.75 356.85L710.25 356.85L709.82 353.8ZM709.34 353.52L706.1 354.9L706.85 356.19L709.66 354.08ZM709.34 354.08L712.15 356.19L712.9 354.9L709.66 353.52Z" stroke="none"/><circle stroke="none" cx="709.5" cy="350.75" r="0.75"/><circle stroke="none" cx="712.52" cy="352.06" r="0.75"/><circle stroke="none" cx="706.48" cy="352.06" r="0.75"/><circle stroke="none" cx="709.5" cy="356.85" r="0.75"/><circle stroke="none" cx="706.48" cy="355.55" r="0.75"/><circle stroke="none" cx="712.52" cy="355.55" r="0.75"/><circle stroke="none" cx="709.5" cy="353.8" r="0.95"/>
<path d="M721.02 353.8L721.45 350.75L719.95 350.75L720.38 353.8ZM720.86 354.08L724.1 352.7L723.35 351.41L720.54 353.52ZM720.86 353.52L718.05 351.41L717.3 352.7L720.54 354.08ZM720.38 353.8L719.95 356.85L721.45 356.85L721.02 353.8ZM720.54 353.52L717.3 354.9L718.05 356.19L720.86 354.08ZM720.54 354.08L723.35 356.19L724.1 354.9L720.86 353.52Z" stroke="none"/><circle stroke="none" cx="720.7" cy="350.75" r="0.75"/><circle stroke="none" cx="723.72" cy="352.06" r="0.75"/><circle stroke="none" cx="717.68" cy="352.06" r="0.75"/><circle stroke="none" cx="720.7" cy="356.85" r="0.75"/><circle stroke="none" cx="717.68" cy="355.55" r="0.75"/><circle stroke="none" cx="723.72" cy="355.55" r="0.75"/><circle stroke="none" cx="720.7" cy="353.8" r="0.95"/>
<line x1="72" y1="645.1" x2="72" y2="821.3" stroke-width="1.8" stroke-linecap="butt"/>
<line x1="71.1" y1="820.4" x2="337.3" y2="820.4" stroke-width="1.8" stroke-linecap="butt"/>
<line x1="66.4" y1="820.4" x2="72" y2="820.4" stroke-width="1.6" stroke-linecap="butt"/>
<text stroke="#000" stroke-width="0.4" x="64.7" y="824.9" font-size="12.5" text-anchor="end" font-weight="bold">0</text>
<line x1="66.4" y1="785.34" x2="72" y2="785.34" stroke-width="1.6" stroke-linecap="butt"/>
<text stroke="#000" stroke-width="0.4" x="64.7" y="789.84" font-size="12.5" text-anchor="end" font-weight="bold">5</text>
<line x1="66.4" y1="750.28" x2="72" y2="750.28" stroke-width="1.6" stroke-linecap="butt"/>
<text stroke="#000" stroke-width="0.4" x="64.7" y="754.78" font-size="12.5" text-anchor="end" font-weight="bold">10</text>
<line x1="66.4" y1="715.22" x2="72" y2="715.22" stroke-width="1.6" stroke-linecap="butt"/>
<text stroke="#000" stroke-width="0.4" x="64.7" y="719.72" font-size="12.5" text-anchor="end" font-weight="bold">15</text>
<line x1="66.4" y1="680.16" x2="72" y2="680.16" stroke-width="1.6" stroke-linecap="butt"/>
<text stroke="#000" stroke-width="0.4" x="64.7" y="684.66" font-size="12.5" text-anchor="end" font-weight="bold">20</text>
<line x1="66.4" y1="645.1" x2="72" y2="645.1" stroke-width="1.6" stroke-linecap="butt"/>
<text stroke="#000" stroke-width="0.4" x="64.7" y="649.6" font-size="12.5" text-anchor="end" font-weight="bold">25</text>
<line x1="95.2" y1="802.38" x2="95.2" y2="805.18" stroke-width="1.8" stroke-linecap="butt"/>
<line x1="90.5" y1="802.38" x2="99.9" y2="802.38" stroke-width="2.2" stroke-linecap="round"/>
<rect stroke="none" x="84.7" y="805.18" width="21" height="15.22" rx="1"/>
<line x1="95.2" y1="820.4" x2="95.2" y2="826.2" stroke-width="1.6" stroke-linecap="butt"/>
<text stroke="#000" stroke-width="0.4" transform="translate(98.8 841) rotate(-45)" font-size="13" font-weight="bold" text-anchor="end">si-NC</text>
<line x1="123.5" y1="778.33" x2="123.5" y2="783.8" stroke-width="1.8" stroke-linecap="butt"/>
<line x1="118.8" y1="778.33" x2="128.2" y2="778.33" stroke-width="2.2" stroke-linecap="round"/>
<rect stroke="none" x="113" y="783.8" width="21" height="36.6" rx="1"/>
<line x1="123.5" y1="820.4" x2="123.5" y2="826.2" stroke-width="1.6" stroke-linecap="butt"/>
<text stroke="#000" stroke-width="0.4" transform="translate(127.1 841) rotate(-45)" font-size="13" font-weight="bold" text-anchor="end">si-CCAT1</text>
<line x1="151.8" y1="767.25" x2="151.8" y2="769.91" stroke-width="1.8" stroke-linecap="butt"/>
<line x1="147.1" y1="767.25" x2="156.5" y2="767.25" stroke-width="2.2" stroke-linecap="round"/>
<rect stroke="none" x="141.3" y="769.91" width="21" height="50.49" rx="1"/>
<line x1="151.8" y1="820.4" x2="151.8" y2="826.2" stroke-width="1.6" stroke-linecap="butt"/>
<text stroke="#000" stroke-width="0.4" transform="translate(155.4 841) rotate(-45)" font-size="13" font-weight="bold" text-anchor="end">Gefitinib</text>
<line x1="180.2" y1="697.2" x2="180.2" y2="707.02" stroke-width="1.8" stroke-linecap="butt"/>
<line x1="175.5" y1="697.2" x2="184.9" y2="697.2" stroke-width="2.2" stroke-linecap="round"/>
<rect stroke="none" x="169.7" y="707.02" width="21" height="113.38" rx="1"/>
<line x1="180.2" y1="820.4" x2="180.2" y2="826.2" stroke-width="1.6" stroke-linecap="butt"/>
<text stroke="#000" stroke-width="0.4" transform="translate(183.8 841) rotate(-45)" font-size="13" font-weight="bold" text-anchor="end">Gefitinib+si-CCAT1</text>
<line x1="227.5" y1="794.25" x2="227.5" y2="795.93" stroke-width="1.8" stroke-linecap="butt"/>
<line x1="222.8" y1="794.25" x2="232.2" y2="794.25" stroke-width="2.2" stroke-linecap="round"/>
<rect x="217.95" y="796.88" width="19.1" height="24.47" fill="#505050" stroke="#000" stroke-width="1.9" rx="0.8"/>
<line x1="227.5" y1="820.4" x2="227.5" y2="826.2" stroke-width="1.6" stroke-linecap="butt"/>
<text stroke="#000" stroke-width="0.4" transform="translate(231.1 841) rotate(-45)" font-size="13" font-weight="bold" text-anchor="end">si-NC</text>
<line x1="255.7" y1="774.12" x2="255.7" y2="776.65" stroke-width="1.8" stroke-linecap="butt"/>
<line x1="251" y1="774.12" x2="260.4" y2="774.12" stroke-width="2.2" stroke-linecap="round"/>
<rect x="246.15" y="777.6" width="19.1" height="43.75" fill="#505050" stroke="#000" stroke-width="1.9" rx="0.8"/>
<line x1="255.7" y1="820.4" x2="255.7" y2="826.2" stroke-width="1.6" stroke-linecap="butt"/>
<text stroke="#000" stroke-width="0.4" transform="translate(259.3 841) rotate(-45)" font-size="13" font-weight="bold" text-anchor="end">si-CCAT1</text>
<line x1="283.9" y1="770.76" x2="283.9" y2="772.44" stroke-width="1.8" stroke-linecap="butt"/>
<line x1="279.2" y1="770.76" x2="288.6" y2="770.76" stroke-width="2.2" stroke-linecap="round"/>
<rect x="274.35" y="773.39" width="19.1" height="47.96" fill="#505050" stroke="#000" stroke-width="1.9" rx="0.8"/>
<line x1="283.9" y1="820.4" x2="283.9" y2="826.2" stroke-width="1.6" stroke-linecap="butt"/>
<text stroke="#000" stroke-width="0.4" transform="translate(287.5 841) rotate(-45)" font-size="13" font-weight="bold" text-anchor="end">Gefitinib</text>
<line x1="312.3" y1="682.12" x2="312.3" y2="695.1" stroke-width="1.8" stroke-linecap="butt"/>
<line x1="307.6" y1="682.12" x2="317" y2="682.12" stroke-width="2.2" stroke-linecap="round"/>
<rect x="302.75" y="696.05" width="19.1" height="125.3" fill="#505050" stroke="#000" stroke-width="1.9" rx="0.8"/>
<line x1="312.3" y1="820.4" x2="312.3" y2="826.2" stroke-width="1.6" stroke-linecap="butt"/>
<text stroke="#000" stroke-width="0.4" transform="translate(315.9 841) rotate(-45)" font-size="13" font-weight="bold" text-anchor="end">Gefitinib+si-CCAT1</text>
<rect stroke="none" x="215.4" y="613.2" width="21" height="12" rx="1.5"/>
<text stroke="#000" stroke-width="0.4" x="246.4" y="624.1" font-size="14.4" text-anchor="start" font-weight="bold">HCC827GR</text>
<rect x="216.3" y="634.4" width="19.2" height="10.2" rx="1" fill="#505050" stroke="#000" stroke-width="1.8"/>
<text stroke="#000" stroke-width="0.4" x="246.4" y="644.4" font-size="14.4" text-anchor="start" font-weight="bold">PC9GR</text>
<text stroke="#000" stroke-width="0.4" x="-0.5" y="605" font-size="19.5" text-anchor="start" font-weight="bold">E</text>
<text stroke="#000" stroke-width="0.4" transform="translate(40.6 799.3) rotate(-90)" font-size="14.2" font-weight="bold">Apoptosis cells</text>
<path d="M30.8 686.4Q37.2 690.4 43.6 686.4" fill="none" stroke-width="1.55"/>
<path d="M30.1 675.8L40.7 681.5" stroke-width="1.45" stroke-linecap="round" fill="none"/>
<ellipse cx="38.1" cy="675" rx="2.4" ry="1.5" fill="none" stroke-width="1.25"/>
<ellipse cx="32.75" cy="682" rx="2.3" ry="1.5" fill="none" stroke-width="1.25"/>
<path d="M30.8 669.1Q37.2 665.1 43.6 669.1" fill="none" stroke-width="1.55"/>
<path d="M170.72 684.4L171.15 681.3L169.65 681.3L170.08 684.4ZM170.56 684.68L173.84 683.28L173.09 681.98L170.24 684.12ZM170.56 684.12L167.71 681.98L166.96 683.28L170.24 684.68ZM170.08 684.4L169.65 687.5L171.15 687.5L170.72 684.4ZM170.24 684.12L166.96 685.52L167.71 686.82L170.56 684.68ZM170.24 684.68L173.09 686.82L173.84 685.52L170.56 684.12Z" stroke="none"/><circle stroke="none" cx="170.4" cy="681.3" r="0.75"/><circle stroke="none" cx="173.47" cy="682.63" r="0.75"/><circle stroke="none" cx="167.33" cy="682.63" r="0.75"/><circle stroke="none" cx="170.4" cy="687.5" r="0.75"/><circle stroke="none" cx="167.33" cy="686.17" r="0.75"/><circle stroke="none" cx="173.47" cy="686.17" r="0.75"/><circle stroke="none" cx="170.4" cy="684.4" r="0.95"/>
<path d="M182.02 684.4L182.45 681.3L180.95 681.3L181.38 684.4ZM181.86 684.68L185.14 683.28L184.39 681.98L181.54 684.12ZM181.86 684.12L179.01 681.98L178.26 683.28L181.54 684.68ZM181.38 684.4L180.95 687.5L182.45 687.5L182.02 684.4ZM181.54 684.12L178.26 685.52L179.01 686.82L181.86 684.68ZM181.54 684.68L184.39 686.82L185.14 685.52L181.86 684.12Z" stroke="none"/><circle stroke="none" cx="181.7" cy="681.3" r="0.75"/><circle stroke="none" cx="184.77" cy="682.63" r="0.75"/><circle stroke="none" cx="178.63" cy="682.63" r="0.75"/><circle stroke="none" cx="181.7" cy="687.5" r="0.75"/><circle stroke="none" cx="178.63" cy="686.17" r="0.75"/><circle stroke="none" cx="184.77" cy="686.17" r="0.75"/><circle stroke="none" cx="181.7" cy="684.4" r="0.95"/>
<path d="M304.32 666.5L304.75 663.4L303.25 663.4L303.68 666.5ZM304.16 666.78L307.44 665.38L306.69 664.08L303.84 666.22ZM304.16 666.22L301.31 664.08L300.56 665.38L303.84 666.78ZM303.68 666.5L303.25 669.6L304.75 669.6L304.32 666.5ZM303.84 666.22L300.56 667.62L301.31 668.92L304.16 666.78ZM303.84 666.78L306.69 668.92L307.44 667.62L304.16 666.22Z" stroke="none"/><circle stroke="none" cx="304" cy="663.4" r="0.75"/><circle stroke="none" cx="307.07" cy="664.73" r="0.75"/><circle stroke="none" cx="300.93" cy="664.73" r="0.75"/><circle stroke="none" cx="304" cy="669.6" r="0.75"/><circle stroke="none" cx="300.93" cy="668.27" r="0.75"/><circle stroke="none" cx="307.07" cy="668.27" r="0.75"/><circle stroke="none" cx="304" cy="666.5" r="0.95"/>
<path d="M315.62 666.5L316.05 663.4L314.55 663.4L314.98 666.5ZM315.46 666.78L318.74 665.38L317.99 664.08L315.14 666.22ZM315.46 666.22L312.61 664.08L311.86 665.38L315.14 666.78ZM314.98 666.5L314.55 669.6L316.05 669.6L315.62 666.5ZM315.14 666.22L311.86 667.62L312.61 668.92L315.46 666.78ZM315.14 666.78L317.99 668.92L318.74 667.62L315.46 666.22Z" stroke="none"/><circle stroke="none" cx="315.3" cy="663.4" r="0.75"/><circle stroke="none" cx="318.37" cy="664.73" r="0.75"/><circle stroke="none" cx="312.23" cy="664.73" r="0.75"/><circle stroke="none" cx="315.3" cy="669.6" r="0.75"/><circle stroke="none" cx="312.23" cy="668.27" r="0.75"/><circle stroke="none" cx="318.37" cy="668.27" r="0.75"/><circle stroke="none" cx="315.3" cy="666.5" r="0.95"/>
<line x1="461" y1="647.9" x2="461" y2="826" stroke-width="1.8" stroke-linecap="butt"/>
<line x1="460.1" y1="825.1" x2="725.3" y2="825.1" stroke-width="1.8" stroke-linecap="butt"/>
<line x1="455.4" y1="825.1" x2="461" y2="825.1" stroke-width="1.6" stroke-linecap="butt"/>
<text stroke="#000" stroke-width="0.4" x="453.7" y="829.6" font-size="12.5" text-anchor="end" font-weight="bold">0</text>
<line x1="455.4" y1="780.8" x2="461" y2="780.8" stroke-width="1.6" stroke-linecap="butt"/>
<text stroke="#000" stroke-width="0.4" x="453.7" y="785.3" font-size="12.5" text-anchor="end" font-weight="bold">5</text>
<line x1="455.4" y1="736.5" x2="461" y2="736.5" stroke-width="1.6" stroke-linecap="butt"/>
<text stroke="#000" stroke-width="0.4" x="453.7" y="741" font-size="12.5" text-anchor="end" font-weight="bold">10</text>
<line x1="455.4" y1="692.2" x2="461" y2="692.2" stroke-width="1.6" stroke-linecap="butt"/>
<text stroke="#000" stroke-width="0.4" x="453.7" y="696.7" font-size="12.5" text-anchor="end" font-weight="bold">15</text>
<line x1="455.4" y1="647.9" x2="461" y2="647.9" stroke-width="1.6" stroke-linecap="butt"/>
<text stroke="#000" stroke-width="0.4" x="453.7" y="652.4" font-size="12.5" text-anchor="end" font-weight="bold">20</text>
<line x1="484.6" y1="802.24" x2="484.6" y2="806.23" stroke-width="1.8" stroke-linecap="butt"/>
<line x1="479.9" y1="802.24" x2="489.3" y2="802.24" stroke-width="2.2" stroke-linecap="round"/>
<rect stroke="none" x="474.25" y="806.23" width="20.7" height="18.87" rx="1"/>
<line x1="484.6" y1="825.1" x2="484.6" y2="830.9" stroke-width="1.6" stroke-linecap="butt"/>
<text stroke="#000" stroke-width="0.4" transform="translate(488.2 845.1) rotate(-45)" font-size="13" font-weight="bold" text-anchor="end">NC</text>
<line x1="512.6" y1="775.31" x2="512.6" y2="779.21" stroke-width="1.8" stroke-linecap="butt"/>
<line x1="507.9" y1="775.31" x2="517.3" y2="775.31" stroke-width="2.2" stroke-linecap="round"/>
<rect stroke="none" x="502.25" y="779.21" width="20.7" height="45.89" rx="1"/>
<line x1="512.6" y1="825.1" x2="512.6" y2="830.9" stroke-width="1.6" stroke-linecap="butt"/>
<text stroke="#000" stroke-width="0.4" transform="translate(516.2 845.1) rotate(-45)" font-size="13" font-weight="bold" text-anchor="end">CCAT1</text>
<line x1="540.8" y1="680.59" x2="540.8" y2="685.56" stroke-width="1.8" stroke-linecap="butt"/>
<line x1="536.1" y1="680.59" x2="545.5" y2="680.59" stroke-width="2.2" stroke-linecap="round"/>
<rect stroke="none" x="530.45" y="685.56" width="20.7" height="139.54" rx="1"/>
<line x1="540.8" y1="825.1" x2="540.8" y2="830.9" stroke-width="1.6" stroke-linecap="butt"/>
<text stroke="#000" stroke-width="0.4" transform="translate(544.4 845.1) rotate(-45)" font-size="13" font-weight="bold" text-anchor="end">Gefitinib</text>
<line x1="568.9" y1="734.73" x2="568.9" y2="741.46" stroke-width="1.8" stroke-linecap="butt"/>
<line x1="564.2" y1="734.73" x2="573.6" y2="734.73" stroke-width="2.2" stroke-linecap="round"/>
<rect stroke="none" x="558.55" y="741.46" width="20.7" height="83.64" rx="1"/>
<line x1="568.9" y1="825.1" x2="568.9" y2="830.9" stroke-width="1.6" stroke-linecap="butt"/>
<text stroke="#000" stroke-width="0.4" transform="translate(572.5 845.1) rotate(-45)" font-size="13" font-weight="bold" text-anchor="end">Gefitinib+CCAT1</text>
<line x1="616" y1="792.41" x2="616" y2="794.44" stroke-width="1.8" stroke-linecap="butt"/>
<line x1="611.3" y1="792.41" x2="620.7" y2="792.41" stroke-width="2.2" stroke-linecap="round"/>
<rect x="606.6" y="795.39" width="18.8" height="30.66" fill="#505050" stroke="#000" stroke-width="1.9" rx="0.8"/>
<line x1="616" y1="825.1" x2="616" y2="830.9" stroke-width="1.6" stroke-linecap="butt"/>
<text stroke="#000" stroke-width="0.4" transform="translate(619.6 845.1) rotate(-45)" font-size="13" font-weight="bold" text-anchor="end">NC</text>
<rect x="634.8" y="772.18" width="18.8" height="53.87" fill="#505050" stroke="#000" stroke-width="1.9" rx="0.8"/>
<line x1="644.2" y1="825.1" x2="644.2" y2="830.9" stroke-width="1.6" stroke-linecap="butt"/>
<text stroke="#000" stroke-width="0.4" transform="translate(647.8 845.1) rotate(-45)" font-size="13" font-weight="bold" text-anchor="end">CCAT1</text>
<line x1="672.4" y1="670.14" x2="672.4" y2="682.99" stroke-width="1.8" stroke-linecap="butt"/>
<line x1="667.7" y1="670.14" x2="677.1" y2="670.14" stroke-width="2.2" stroke-linecap="round"/>
<rect x="663" y="683.94" width="18.8" height="142.11" fill="#505050" stroke="#000" stroke-width="1.9" rx="0.8"/>
<line x1="672.4" y1="825.1" x2="672.4" y2="830.9" stroke-width="1.6" stroke-linecap="butt"/>
<text stroke="#000" stroke-width="0.4" transform="translate(676 845.1) rotate(-45)" font-size="13" font-weight="bold" text-anchor="end">Gefitinib</text>
<line x1="700.4" y1="731.89" x2="700.4" y2="738.98" stroke-width="1.8" stroke-linecap="butt"/>
<line x1="695.7" y1="731.89" x2="705.1" y2="731.89" stroke-width="2.2" stroke-linecap="round"/>
<rect x="691" y="739.93" width="18.8" height="86.12" fill="#505050" stroke="#000" stroke-width="1.9" rx="0.8"/>
<line x1="700.4" y1="825.1" x2="700.4" y2="830.9" stroke-width="1.6" stroke-linecap="butt"/>
<text stroke="#000" stroke-width="0.4" transform="translate(704 845.1) rotate(-45)" font-size="13" font-weight="bold" text-anchor="end">Gefitinib+CCAT1</text>
<rect stroke="none" x="603.8" y="616.9" width="21" height="12" rx="1.5"/>
<text stroke="#000" stroke-width="0.4" x="634.8" y="627.8" font-size="14.4" text-anchor="start" font-weight="bold">HCC827</text>
<rect x="604.7" y="638.1" width="19.2" height="10.2" rx="1" fill="#505050" stroke="#000" stroke-width="1.8"/>
<text stroke="#000" stroke-width="0.4" x="634.8" y="648.1" font-size="14.4" text-anchor="start" font-weight="bold">PC9</text>
<text stroke="#000" stroke-width="0.4" x="386" y="605" font-size="19.5" text-anchor="start" font-weight="bold">F</text>
<text stroke="#000" stroke-width="0.4" transform="translate(430.6 803.2) rotate(-90)" font-size="14.2" font-weight="bold">Apoptosis cells</text>
<path d="M420.8 690.3Q427.2 694.3 433.6 690.3" fill="none" stroke-width="1.55"/>
<path d="M420.1 679.7L430.7 685.4" stroke-width="1.45" stroke-linecap="round" fill="none"/>
<ellipse cx="428.1" cy="678.9" rx="2.4" ry="1.5" fill="none" stroke-width="1.25"/>
<ellipse cx="422.75" cy="685.9" rx="2.3" ry="1.5" fill="none" stroke-width="1.25"/>
<path d="M420.8 673Q427.2 669 433.6 673" fill="none" stroke-width="1.55"/>
<path d="M538.32 666.5L538.75 663.4L537.25 663.4L537.68 666.5ZM538.16 666.78L541.44 665.38L540.69 664.08L537.84 666.22ZM538.16 666.22L535.31 664.08L534.56 665.38L537.84 666.78ZM537.68 666.5L537.25 669.6L538.75 669.6L538.32 666.5ZM537.84 666.22L534.56 667.62L535.31 668.92L538.16 666.78ZM537.84 666.78L540.69 668.92L541.44 667.62L538.16 666.22Z" stroke="none"/><circle stroke="none" cx="538" cy="663.4" r="0.75"/><circle stroke="none" cx="541.07" cy="664.73" r="0.75"/><circle stroke="none" cx="534.93" cy="664.73" r="0.75"/><circle stroke="none" cx="538" cy="669.6" r="0.75"/><circle stroke="none" cx="534.93" cy="668.27" r="0.75"/><circle stroke="none" cx="541.07" cy="668.27" r="0.75"/><circle stroke="none" cx="538" cy="666.5" r="0.95"/>
<path d="M549.62 666.5L550.05 663.4L548.55 663.4L548.98 666.5ZM549.46 666.78L552.74 665.38L551.99 664.08L549.14 666.22ZM549.46 666.22L546.61 664.08L545.86 665.38L549.14 666.78ZM548.98 666.5L548.55 669.6L550.05 669.6L549.62 666.5ZM549.14 666.22L545.86 667.62L546.61 668.92L549.46 666.78ZM549.14 666.78L551.99 668.92L552.74 667.62L549.46 666.22Z" stroke="none"/><circle stroke="none" cx="549.3" cy="663.4" r="0.75"/><circle stroke="none" cx="552.37" cy="664.73" r="0.75"/><circle stroke="none" cx="546.23" cy="664.73" r="0.75"/><circle stroke="none" cx="549.3" cy="669.6" r="0.75"/><circle stroke="none" cx="546.23" cy="668.27" r="0.75"/><circle stroke="none" cx="552.37" cy="668.27" r="0.75"/><circle stroke="none" cx="549.3" cy="666.5" r="0.95"/>
<path d="M664.82 663.4L665.25 660.3L663.75 660.3L664.18 663.4ZM664.66 663.68L667.94 662.28L667.19 660.98L664.34 663.12ZM664.66 663.12L661.81 660.98L661.06 662.28L664.34 663.68ZM664.18 663.4L663.75 666.5L665.25 666.5L664.82 663.4ZM664.34 663.12L661.06 664.52L661.81 665.82L664.66 663.68ZM664.34 663.68L667.19 665.82L667.94 664.52L664.66 663.12Z" stroke="none"/><circle stroke="none" cx="664.5" cy="660.3" r="0.75"/><circle stroke="none" cx="667.57" cy="661.63" r="0.75"/><circle stroke="none" cx="661.43" cy="661.63" r="0.75"/><circle stroke="none" cx="664.5" cy="666.5" r="0.75"/><circle stroke="none" cx="661.43" cy="665.17" r="0.75"/><circle stroke="none" cx="667.57" cy="665.17" r="0.75"/><circle stroke="none" cx="664.5" cy="663.4" r="0.95"/>
<path d="M676.02 663.4L676.45 660.3L674.95 660.3L675.38 663.4ZM675.86 663.68L679.14 662.28L678.39 660.98L675.54 663.12ZM675.86 663.12L673.01 660.98L672.26 662.28L675.54 663.68ZM675.38 663.4L674.95 666.5L676.45 666.5L676.02 663.4ZM675.54 663.12L672.26 664.52L673.01 665.82L675.86 663.68ZM675.54 663.68L678.39 665.82L679.14 664.52L675.86 663.12Z" stroke="none"/><circle stroke="none" cx="675.7" cy="660.3" r="0.75"/><circle stroke="none" cx="678.77" cy="661.63" r="0.75"/><circle stroke="none" cx="672.63" cy="661.63" r="0.75"/><circle stroke="none" cx="675.7" cy="666.5" r="0.75"/><circle stroke="none" cx="672.63" cy="665.17" r="0.75"/><circle stroke="none" cx="678.77" cy="665.17" r="0.75"/><circle stroke="none" cx="675.7" cy="663.4" r="0.95"/>
<rect stroke="none" x="28.91" y="93.78" width="7.67" height="4.88" fill="#fff"/><rect stroke="none" x="31.93" y="93.28" width="2.11" height="3.48" fill="#000"/>
<rect stroke="none" x="28.91" y="34.93" width="7.67" height="4.88" fill="#fff"/><rect stroke="none" x="31.93" y="34.43" width="2.11" height="3.48" fill="#000"/>
<rect stroke="none" x="173.61" y="67.45" width="8.68" height="5.05" fill="#fff"/><rect stroke="none" x="177.02" y="66.95" width="2.35" height="3.65" fill="#000"/>
<rect stroke="none" x="428.61" y="95.6" width="7.67" height="4.88" fill="#fff"/><rect stroke="none" x="431.63" y="95.1" width="2.11" height="3.48" fill="#000"/>
<rect stroke="none" x="428.61" y="36.63" width="7.67" height="4.88" fill="#fff"/><rect stroke="none" x="431.63" y="36.13" width="2.11" height="3.48" fill="#000"/>
<rect stroke="none" x="574.11" y="69.45" width="8.68" height="5.05" fill="#fff"/><rect stroke="none" x="577.52" y="68.95" width="2.35" height="3.65" fill="#000"/>
<rect stroke="none" x="50.81" y="405.58" width="7.67" height="4.88" fill="#fff"/><rect stroke="none" x="53.83" y="405.08" width="2.11" height="3.48" fill="#000"/>
<rect stroke="none" x="50.81" y="346.62" width="7.67" height="4.88" fill="#fff"/><rect stroke="none" x="53.83" y="346.12" width="2.11" height="3.48" fill="#000"/>
<rect stroke="none" x="180.04" y="355.35" width="8.68" height="5.05" fill="#fff"/><rect stroke="none" x="183.46" y="354.85" width="2.35" height="3.65" fill="#000"/>
<rect stroke="none" x="426.11" y="407.52" width="7.67" height="4.88" fill="#fff"/><rect stroke="none" x="429.13" y="407.02" width="2.11" height="3.48" fill="#000"/>
<rect stroke="none" x="426.11" y="348.68" width="7.67" height="4.88" fill="#fff"/><rect stroke="none" x="429.13" y="348.18" width="2.11" height="3.48" fill="#000"/>
<rect stroke="none" x="555.34" y="357.55" width="8.68" height="5.05" fill="#fff"/><rect stroke="none" x="558.76" y="357.05" width="2.35" height="3.65" fill="#000"/>
<rect stroke="none" x="50.49" y="752.01" width="7.67" height="4.88" fill="#fff"/><rect stroke="none" x="53.51" y="751.51" width="2.11" height="3.48" fill="#000"/>
<rect stroke="none" x="50.49" y="716.94" width="7.67" height="4.88" fill="#fff"/><rect stroke="none" x="53.51" y="716.44" width="2.11" height="3.48" fill="#000"/>
<g transform="translate(127.1 841) rotate(-45)"><rect stroke="none" x="-7.55" y="-2.83" width="7.97" height="4.93" fill="#fff"/><rect stroke="none" x="-4.42" y="-3.33" width="2.18" height="3.53" fill="#000"/></g>
<g transform="translate(183.8 841) rotate(-45)"><rect stroke="none" x="-7.55" y="-2.83" width="7.97" height="4.93" fill="#fff"/><rect stroke="none" x="-4.42" y="-3.33" width="2.18" height="3.53" fill="#000"/></g>
<g transform="translate(259.3 841) rotate(-45)"><rect stroke="none" x="-7.55" y="-2.83" width="7.97" height="4.93" fill="#fff"/><rect stroke="none" x="-4.42" y="-3.33" width="2.18" height="3.53" fill="#000"/></g>
<g transform="translate(315.9 841) rotate(-45)"><rect stroke="none" x="-7.55" y="-2.83" width="7.97" height="4.93" fill="#fff"/><rect stroke="none" x="-4.42" y="-3.33" width="2.18" height="3.53" fill="#000"/></g>
<rect stroke="none" x="439.49" y="738.23" width="7.67" height="4.88" fill="#fff"/><rect stroke="none" x="442.51" y="737.73" width="2.11" height="3.48" fill="#000"/>
<rect stroke="none" x="439.49" y="693.93" width="7.67" height="4.88" fill="#fff"/><rect stroke="none" x="442.51" y="693.43" width="2.11" height="3.48" fill="#000"/>
<g transform="translate(516.2 845.1) rotate(-45)"><rect stroke="none" x="-7.53" y="-2.83" width="7.97" height="4.93" fill="#fff"/><rect stroke="none" x="-4.4" y="-3.33" width="2.18" height="3.53" fill="#000"/></g>
<g transform="translate(572.5 845.1) rotate(-45)"><rect stroke="none" x="-7.55" y="-2.83" width="7.97" height="4.93" fill="#fff"/><rect stroke="none" x="-4.42" y="-3.33" width="2.18" height="3.53" fill="#000"/></g>
<g transform="translate(647.8 845.1) rotate(-45)"><rect stroke="none" x="-7.53" y="-2.83" width="7.97" height="4.93" fill="#fff"/><rect stroke="none" x="-4.4" y="-3.33" width="2.18" height="3.53" fill="#000"/></g>
<g transform="translate(704 845.1) rotate(-45)"><rect stroke="none" x="-7.55" y="-2.83" width="7.97" height="4.93" fill="#fff"/><rect stroke="none" x="-4.42" y="-3.33" width="2.18" height="3.53" fill="#000"/></g>
</svg>
</body></html>
